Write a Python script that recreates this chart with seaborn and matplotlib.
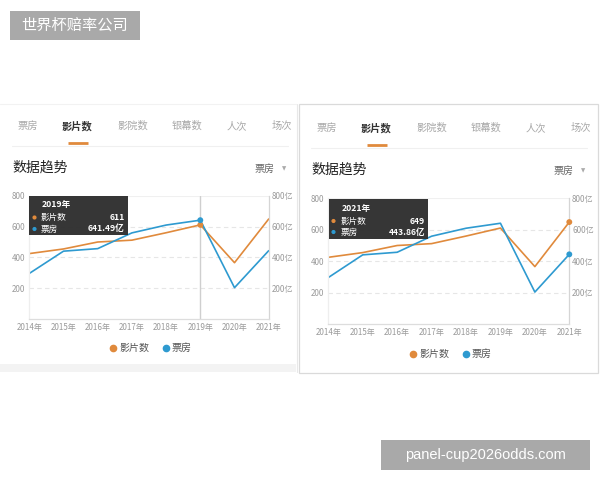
import numpy as np
import pandas as pd
import seaborn as sns
import matplotlib
matplotlib.use("Agg")
import matplotlib.pyplot as plt
from matplotlib.patches import Rectangle
from matplotlib.lines import Line2D

# ---------------- data ----------------
years = ['2014年', '2015年', '2016年', '2017年', '2018年', '2019年', '2020年', '2021年']
films = [425, 455, 500, 512, 560, 611, 366, 649]            # 影片数
box_office = [296.39, 440.69, 457.12, 559.11, 609.76, 641.49, 204.17, 443.86]  # 票房(亿)
series_names = ['影片数', '票房']
left_ticks = [200, 400, 600, 800]
right_ticks = ['200亿', '400亿', '600亿', '800亿']
tabs = ['票房', '影片数', '影院数', '银幕数', '人次', '场次']
highlight_idx = [5, 7]   # tooltip year for the two panels

sns.set_theme(style="white")
plt.rcParams['font.family'] = ['Noto Sans CJK SC', 'DejaVu Sans']

ORANGE = '#E08A3C'
BLUE = '#2E9AD0'
palette = {'影片数': ORANGE, '票房': BLUE}

df = pd.DataFrame({
    'idx': list(range(len(years))) * 2,
    'value': films + box_office,
    'series': [series_names[0]] * len(years) + [series_names[1]] * len(years),
})

W, H = 600, 480
fig = plt.figure(figsize=(6, 4.8), dpi=100)
fig.patch.set_facecolor('white')


def fbox(x0, x1, ytop, ybot):
    return [x0 / W, 1 - ybot / H, (x1 - x0) / W, (ybot - ytop) / H]


def draw_chart(rect, hi):
    ax = fig.add_axes(rect, zorder=1)
    sns.lineplot(data=df, x='idx', y='value', hue='series', palette=palette,
                 ax=ax, linewidth=1.2, legend=False, sort=False)
    ax.set_xlim(0, len(years) - 1)
    ax.set_ylim(0, 800)
    ax.set_xticks(range(len(years)))
    ax.set_xticklabels(years)
    ax.set_yticks(left_ticks)
    ax.set_yticklabels([str(t) for t in left_ticks])
    ax.tick_params(axis='both', length=0, labelsize=5.8, colors='#9a9a9a')
    ax.tick_params(axis='y', pad=3)
    ax.tick_params(axis='x', pad=3)
    ax.set_xlabel('')
    ax.set_ylabel('')
    for t in left_ticks[:-1]:
        ax.axhline(t, color='#e6e6e6', lw=0.8, ls=(0, (4, 3)), zorder=0)
    ax.axhline(800, color='#f0f0f0', lw=0.8, zorder=0)
    ax.spines['top'].set_visible(False)
    ax.spines['left'].set_color('#eeeeee')
    ax.spines['bottom'].set_color('#dddddd')
    ax.spines['right'].set_color('#d5d5d5')
    for s in ['left', 'bottom', 'right']:
        ax.spines[s].set_linewidth(0.9)
    ax2 = ax.twinx()
    ax2.set_ylim(0, 800)
    ax2.set_yticks(left_ticks)
    ax2.set_yticklabels(right_ticks)
    ax2.tick_params(axis='y', length=0, labelsize=5.8, colors='#9a9a9a', pad=2)
    for s in ax2.spines.values():
        s.set_visible(False)
    ax2.grid(False)
    # highlighted points
    ax.scatter([hi], [films[hi]], s=18, color=ORANGE, zorder=5,
               edgecolor='none', clip_on=False)
    ax.scatter([hi], [box_office[hi]], s=18, color=BLUE, zorder=5,
               edgecolor='none', clip_on=False)
    return ax


axL = draw_chart(fbox(29.3, 268.7, 195.7, 319.2), highlight_idx[0])
axL.axvline(highlight_idx[0], color='#cfcfcf', lw=1.0, zorder=0)
axR = draw_chart(fbox(328.3, 569.3, 198.3, 324.2), highlight_idx[1])

# ---------------- overlay for panel decoration ----------------
ov = fig.add_axes([0, 0, 1, 1], zorder=10)
ov.set_xlim(0, W)
ov.set_ylim(H, 0)
ov.axis('off')
ov.patch.set_alpha(0)

# panels frames
ov.add_patch(Rectangle((0, 364), 296, 8, facecolor='#f3f3f3', edgecolor='none'))
ov.plot([296.5, 296.5], [104, 372], color='#e8e8e8', lw=0.8)
ov.add_patch(Rectangle((298.5, 103.5), 299, 269.5, facecolor='none',
                       edgecolor='#dadada', lw=0.9))
ov.plot([0, 296], [103.5, 103.5], color='#f2f2f2', lw=0.8)


def panel_deco(dx, dy, hi, box_rect, tip_rows):
    # tabs
    tab_x = [18, 62, 117, 172, 227, 272]
    clip = Rectangle((dx, 100 + dy), 283, 40, transform=ov.transData)
    for i, (t, x) in enumerate(zip(tabs, tab_x)):
        txt = ov.text(x + dx, 126 + dy, t, fontsize=7.4,
                      color='#333333' if i == 1 else '#a8a8a8',
                      fontweight='bold' if i == 1 else 'normal',
                      ha='left', va='center')
        txt.set_clip_path(clip)
    ov.plot([68 + dx, 88 + dx], [143 + dy, 143 + dy], color=ORANGE, lw=2.0,
            solid_capstyle='butt')
    ov.plot([12 + dx, 288 + dx], [146 + dy, 146 + dy], color='#f0f0f0', lw=0.8)
    ov.text(12 + dx, 168 + dy, '数据趋势', fontsize=10, color='#222222',
            ha='left', va='center')
    ov.text(255 + dx, 169 + dy, '票房', fontsize=7.2, color='#666666',
            ha='left', va='center')
    ov.text(282 + dx, 169 + dy, '▼', fontsize=4, color='#aaaaaa',
            ha='left', va='center', family='DejaVu Sans')
    # tooltip
    x0, y0, x1, y1 = box_rect
    ov.add_patch(Rectangle((x0, y0), x1 - x0, y1 - y0, facecolor='#2b2b2b',
                           edgecolor='none', alpha=0.95))
    ty, r1, r2, dotx, tx, vx = tip_rows
    ov.text(tx + 1, ty, years[hi], fontsize=6.2, color='white',
            fontweight='bold', ha='left', va='center')
    ov.scatter([dotx], [r1], s=9, color=ORANGE, edgecolor='none')
    ov.scatter([dotx], [r2], s=9, color=BLUE, edgecolor='none')
    ov.text(tx, r1, series_names[0], fontsize=6.2, color='white', ha='left', va='center')
    ov.text(tx, r2, series_names[1], fontsize=6.2, color='white', ha='left', va='center')
    ov.text(vx, r1, f'{films[hi]}', fontsize=6.2, color='white',
            fontweight='bold', ha='right', va='center')
    ov.text(vx, r2, f'{box_office[hi]:.2f}亿', fontsize=6.2, color='white',
            fontweight='bold', ha='right', va='center')


panel_deco(0, 0, highlight_idx[0], (29, 196, 128, 235),
           (205, 217.5, 229, 34.5, 40.7, 124.5))
panel_deco(299, 2, highlight_idx[1], (328.5, 199, 428, 239),
           (208, 221, 232, 333.5, 340.7, 425.3))

# legends
for ax, (cx, cy) in [(axL, (150, 348)), (axR, (450, 354))]:
    handles = [Line2D([], [], marker='o', ls='none', color=palette[n],
                      markersize=4.5) for n in series_names]
    fig.legend(handles, series_names, loc='center',
               bbox_to_anchor=(cx / W, 1 - cy / H), ncol=2, frameon=False,
               fontsize=7.2, handletextpad=0.1, columnspacing=1.2,
               labelcolor='#555555', handlelength=1.0)

# watermarks
ov.add_patch(Rectangle((10, 11), 130, 29, facecolor='#a9a9a9', edgecolor='none'))
ov.text(75, 25.5, '世界杯赔率公司', fontsize=11, color='white', ha='center', va='center')
ov.add_patch(Rectangle((381, 440), 209, 30, facecolor='#a9a9a9', edgecolor='none'))
ov.text(485.5, 455, 'panel-cup2026odds.com', fontsize=10.5, color='white',
        ha='center', va='center', family=['Liberation Sans', 'DejaVu Sans'])

fig.savefig('out.png', dpi=100, facecolor='white')
